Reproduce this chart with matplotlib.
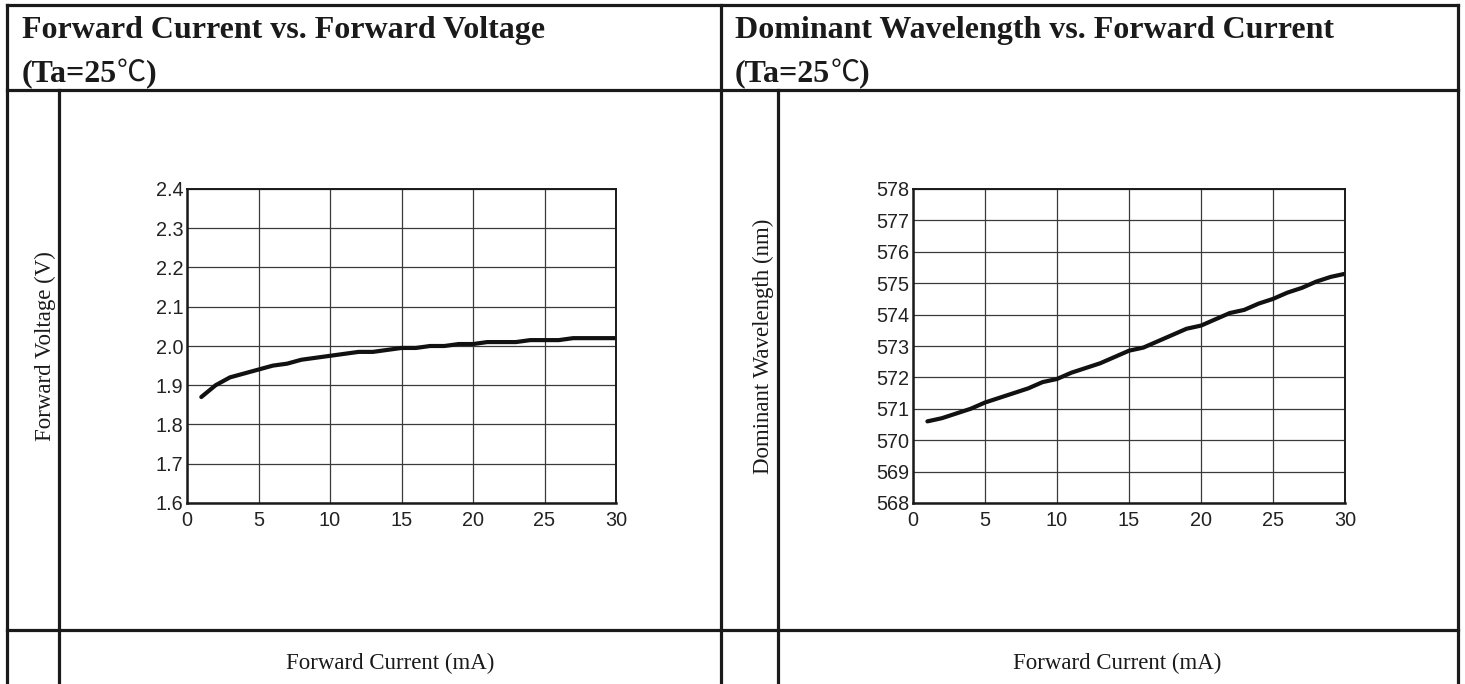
import matplotlib
matplotlib.use('Agg')
import matplotlib.pyplot as plt
from matplotlib.lines import Line2D
import numpy as np

# ---- data ----
current_ma = [1, 2, 3, 4, 5, 6, 7, 8, 9, 10, 11, 12, 13, 14, 15,
              16, 17, 18, 19, 20, 21, 22, 23, 24, 25, 26, 27, 28, 29, 30]
forward_voltage = [1.870, 1.900, 1.920, 1.930, 1.940, 1.950, 1.955, 1.965, 1.970, 1.975,
                   1.980, 1.985, 1.985, 1.990, 1.995, 1.995, 2.000, 2.000, 2.005, 2.005,
                   2.010, 2.010, 2.010, 2.015, 2.015, 2.015, 2.020, 2.020, 2.020, 2.020]
dominant_wl = [570.60, 570.70, 570.85, 571.00, 571.20, 571.35, 571.50, 571.65, 571.85, 571.95,
               572.15, 572.30, 572.45, 572.65, 572.85, 572.95, 573.15, 573.35, 573.55, 573.65,
               573.85, 574.05, 574.15, 574.35, 574.50, 574.70, 574.85, 575.05, 575.20, 575.30]
x_ticks = [0, 5, 10, 15, 20, 25, 30]
vf_ticks = [1.6, 1.7, 1.8, 1.9, 2.0, 2.1, 2.2, 2.3, 2.4]
wl_ticks = [568, 569, 570, 571, 572, 573, 574, 575, 576, 577, 578]

W, H = 1465, 684
fig = plt.figure(figsize=(W / 100, H / 100), dpi=100)
fig.patch.set_facecolor('white')


def fx(px):
    return px / W


def fy(py):
    return 1 - py / H


LINE_C = '#1a1a1a'
LW = 2.3


def hline(y, x0, x1):
    fig.add_artist(Line2D([fx(x0), fx(x1)], [fy(y), fy(y)], transform=fig.transFigure,
                          color=LINE_C, lw=LW, solid_capstyle='projecting'))


def vline(x, y0, y1):
    fig.add_artist(Line2D([fx(x), fx(x)], [fy(y0), fy(y1)], transform=fig.transFigure,
                          color=LINE_C, lw=LW, solid_capstyle='projecting'))


# table frame
hline(5, 7, 1458)
hline(90, 7, 1458)
hline(630, 7, 1458)
vline(7, 5, 690)
vline(721, 5, 690)
vline(1458, 5, 690)
vline(59, 90, 690)
vline(778, 90, 690)

renderer = fig.canvas.get_renderer()

SERIF = ['Liberation Serif', 'DejaVu Serif']
BOLD = dict(family=SERIF, weight='bold', size=23, color='#1a1a1a')
DEG = dict(family=['Noto Sans CJK SC', 'DejaVu Sans'], weight='normal', size=21, color='#1a1a1a')


def pieces(x, y, parts):
    xp = x
    for s, props in parts:
        t = fig.text(fx(xp), fy(y), s, ha='left', va='baseline', **props)
        bb = t.get_window_extent(renderer)
        xp += bb.width


pieces(22, 38, [("Forward Current vs. Forward Voltage", BOLD)])
pieces(22, 81, [("(Ta=25", BOLD), ("\u2103", DEG), (")", BOLD)])
pieces(735, 38, [("Dominant Wavelength vs. Forward Current", BOLD)])
pieces(735, 81, [("(Ta=25", BOLD), ("\u2103", DEG), (")", BOLD)])

LBL = dict(family=SERIF, size=16.5, color='#1a1a1a')
fig.text(fx(45), fy(346), "Forward Voltage (V)", rotation=90, ha='center', va='center', **LBL)
fig.text(fx(763), fy(346), "Dominant Wavelength (nm)", rotation=90, ha='center', va='center', **LBL)
fig.text(fx(390), fy(663), "Forward Current (mA)", ha='center', va='center', **LBL)
fig.text(fx(1117), fy(663), "Forward Current (mA)", ha='center', va='center', **LBL)


def setup(ax, yticks, fmt, ylim):
    ax.set_xlim(0, 30)
    ax.set_ylim(*ylim)
    ax.set_xticks(x_ticks)
    ax.set_xticklabels([str(v) for v in x_ticks])
    ax.set_yticks(yticks)
    ax.set_yticklabels([fmt.format(v) for v in yticks])
    ax.grid(True, color='#3a3a3a', lw=0.9)
    ax.set_axisbelow(True)
    for s in ax.spines.values():
        s.set_color('#1a1a1a')
        s.set_linewidth(1.4)
    ax.spines['left'].set_linewidth(1.8)
    ax.spines['bottom'].set_linewidth(1.8)
    ax.tick_params(length=0, labelsize=14.3, labelcolor='#222222')
    ax.tick_params(axis='x', pad=6)
    ax.tick_params(axis='y', pad=2.5)
    for lab in ax.get_xticklabels() + ax.get_yticklabels():
        lab.set_family(['Liberation Sans', 'DejaVu Sans'])


ax1 = fig.add_axes([fx(187), fy(503), (616 - 187) / W, (503 - 189) / H])
ax1.plot(current_ma, forward_voltage, color='#111111', lw=3, solid_capstyle='round')
setup(ax1, vf_ticks, '{:.1f}', (1.6, 2.4))

ax2 = fig.add_axes([fx(913), fy(503), (1345 - 913) / W, (503 - 189) / H])
ax2.plot(current_ma, dominant_wl, color='#111111', lw=3, solid_capstyle='round')
setup(ax2, wl_ticks, '{:d}', (568, 578))

fig.savefig('out.png', dpi=100, facecolor='white')
